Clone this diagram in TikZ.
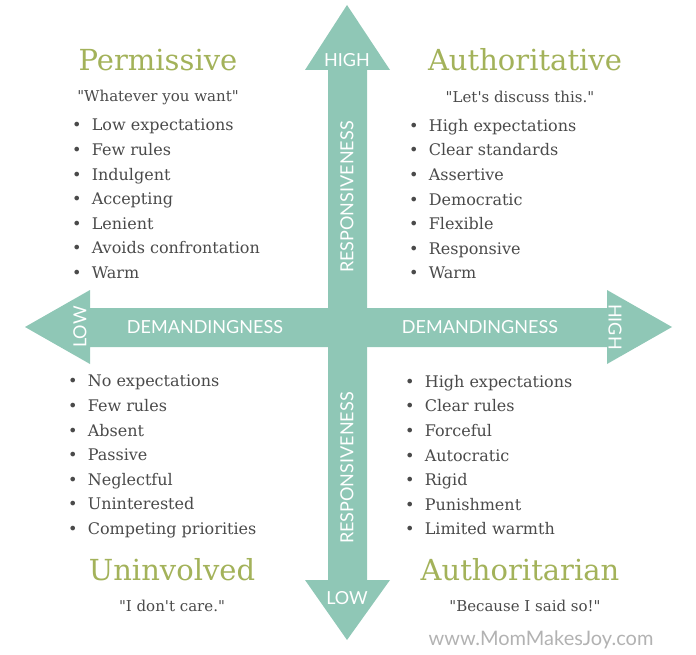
\documentclass[tikz,border=0pt]{standalone}
\usepackage{fontspec}
\setmainfont{DejaVu Serif}[Ligatures=TeXOff]
\newfontfamily\lato{Lato}
\definecolor{arr}{HTML}{8FC7B6}
\definecolor{ttl}{HTML}{A3B25A}
\definecolor{txt}{HTML}{4A4A4A}
\begin{document}
\begin{tikzpicture}[x=1pt,y=-1pt,
 ttlst/.style={text=ttl,font=\fontsize{29}{31}\selectfont},
 qst/.style={text=txt,font=\fontsize{15}{17}\selectfont},
 lst/.style={text=txt,font=\fontsize{16}{24.6}\selectfont,align=left,anchor=north west,inner sep=0pt},
 lab/.style={text=white,font=\lato\fontsize{18}{20}\selectfont}]
\useasboundingbox (0,0) rectangle (696,655);
\fill[arr] (25,327) -- (90,290) -- (90,308) -- (607,308) -- (607,290) -- (672,327) -- (607,364) -- (607,347) -- (90,347) -- (90,364) -- cycle;
\fill[arr] (347,5) -- (390,70) -- (367,70) -- (367,580) -- (390,580) -- (347,640) -- (305,580) -- (328,580) -- (328,70) -- (305,70) -- cycle;
\node[lab] (h1) at (347,60) {HIGH};
\node[lab] (l1) at (347,598) {LOW};
\node[lab,rotate=90] (r1) at (347,197) {RESPONSIVENESS};
\node[lab,rotate=90] (r2) at (347,468) {RESPONSIVENESS};
\node[lab,rotate=90] (l2) at (80,327) {LOW};
\node[lab,rotate=-90] (h2) at (615,327) {HIGH};
\node[lab] (d1) at (205,327) {DEMANDINGNESS};
\node[lab] (d2) at (480,327) {DEMANDINGNESS};
\node[ttlst] (t1) at (158,60) {Permissive};
\node[qst] (q1) at (158,97) {"Whatever you want"};
\node[ttlst] (t2) at (525,60) {Authoritative};
\node[qst] (q2) at (520,97) {"Let's discuss this."};
\node[ttlst] (t3) at (172,570) {Uninvolved};
\node[qst] (q3) at (172,606) {"I don't care."};
\node[ttlst] (t4) at (520,570) {Authoritarian};
\node[qst] (q4) at (525,606) {"Because I said so!"};
\node[lst] (b1) at (72,119) {\textbullet\ \ Low expectations\\\textbullet\ \ Few rules\\\textbullet\ \ Indulgent\\\textbullet\ \ Accepting\\\textbullet\ \ Lenient\\\textbullet\ \ Avoids confrontation\\\textbullet\ \ Warm};
\node[lst] (b2) at (409,119) {\textbullet\ \ High expectations\\\textbullet\ \ Clear standards\\\textbullet\ \ Assertive\\\textbullet\ \ Democratic\\\textbullet\ \ Flexible\\\textbullet\ \ Responsive\\\textbullet\ \ Warm};
\node[lst] (b3) at (68,375) {\textbullet\ \ No expectations\\\textbullet\ \ Few rules\\\textbullet\ \ Absent\\\textbullet\ \ Passive\\\textbullet\ \ Neglectful\\\textbullet\ \ Uninterested\\\textbullet\ \ Competing priorities};
\node[lst] (b4) at (405,375) {\textbullet\ \ High expectations\\\textbullet\ \ Clear rules\\\textbullet\ \ Forceful\\\textbullet\ \ Autocratic\\\textbullet\ \ Rigid\\\textbullet\ \ Punishment\\\textbullet\ \ Limited warmth};
\node[text=black!30,font=\lato\fontsize{20}{22}\selectfont] (w) at (541,640) {www.MomMakesJoy.com};
\end{tikzpicture}
\end{document}
